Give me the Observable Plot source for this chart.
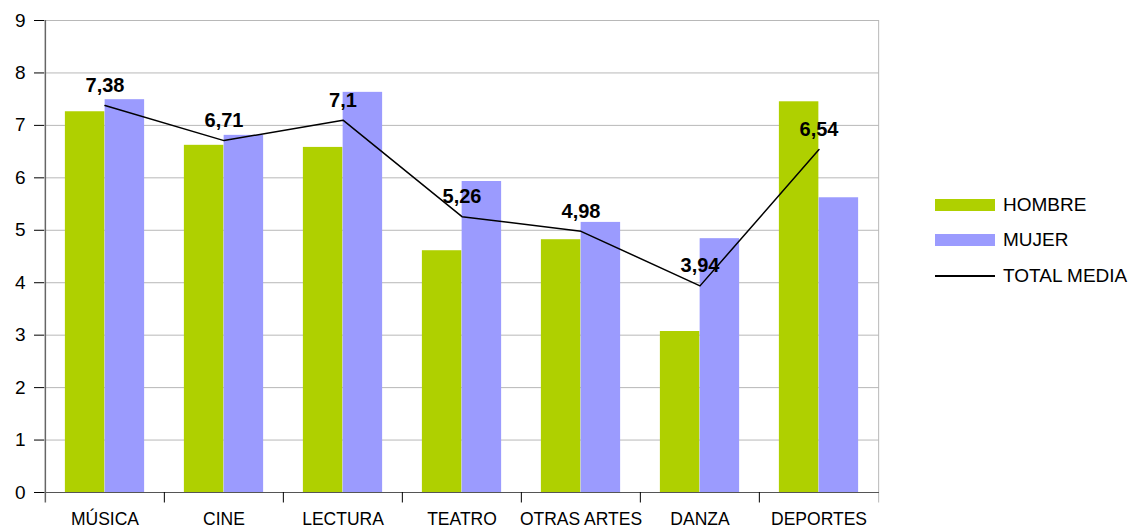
<!DOCTYPE html>
<html>
<head>
<meta charset="utf-8">
<script src="https://cdn.jsdelivr.net/npm/d3@7"></script>
<script src="https://cdn.jsdelivr.net/npm/@observablehq/plot@0.6"></script>
<style>
  html, body { margin: 0; padding: 0; background: #fff; }
  #wrap { position: relative; width: 1138px; height: 530px; font-family: "Liberation Sans", Arial, sans-serif; }
  #wrap svg { overflow: visible; }
  #legend { position: absolute; left: 935px; top: 187px; font-size: 19px; color: #000; }
  .item { display: flex; align-items: center; height: 35.5px; }
  .sw { width: 60px; height: 12px; margin-right: 8px; }
  .ln { width: 60px; height: 0; border-top: 2px solid #000; margin-right: 8px; }
</style>
</head>
<body>
<div id="wrap"><div id="legend"></div></div>
<script>
const categories = ["MÚSICA", "CINE", "LECTURA", "TEATRO", "OTRAS ARTES", "DANZA", "DEPORTES"];
const hombre = [7.26, 6.62, 6.58, 4.61, 4.82, 3.07, 7.45];
const mujer = [7.49, 6.81, 7.63, 5.93, 5.15, 4.84, 5.62];
const totalMedia = [7.38, 6.71, 7.1, 5.26, 4.98, 3.94, 6.54];
const yTicks = [0, 1, 2, 3, 4, 5, 6, 7, 8, 9];
const seriesNames = ["HOMBRE", "MUJER", "TOTAL MEDIA"];
const colors = { HOMBRE: "#afd000", MUJER: "#9b9bfe", "TOTAL MEDIA": "#000" };

const W = 1138, H = 530, mL = 44, mR = 259, mT = 20, mB = 38;
const bw = (W - mL - mR) / categories.length;
const outer = bw / 6, half = bw / 2;

const rows = categories.map((c, i) => ({ cat: c, hombre: hombre[i], mujer: mujer[i], total: totalMedia[i] }));
const fmt = v => String(v).replace(".", ",");

const chart = Plot.plot({
  width: W, height: H,
  marginLeft: mL, marginRight: mR, marginTop: mT, marginBottom: mB,
  style: { fontFamily: "'Liberation Sans', Arial, sans-serif", background: "#fff", color: "#000", overflow: "visible" },
  x: { type: "band", domain: categories, padding: 0 },
  y: { domain: [0, 9] },
  marks: [
    Plot.gridY(yTicks, { stroke: "#b8b8b8", strokeOpacity: 1 }),
    Plot.barY(rows, { x: "cat", y: "hombre", fill: colors.HOMBRE, insetLeft: outer, insetRight: half }),
    Plot.barY(rows, { x: "cat", y: "mujer", fill: colors.MUJER, insetLeft: half, insetRight: outer }),
    Plot.ruleX([categories[categories.length - 1]], { dx: half, y1: -0.2, y2: 9, stroke: "#b8b8b8" }),
    Plot.ruleY([0], { stroke: "#555" }),
    Plot.ruleX(categories.slice(1), { dx: -half, y1: 0, y2: -0.2, stroke: "#000" }),
    Plot.ruleX([categories[0]], { dx: -half, y1: -0.2, y2: 9, stroke: "#666", strokeWidth: 1.5 }),
    Plot.axisY(yTicks, { tickSize: 10, tickPadding: 9, fontSize: 19, stroke: "#000", label: null, tickFormat: d => String(d) }),
    Plot.axisX({ tickSize: 0, tickPadding: 20, fontSize: 17.5, label: null }),
    Plot.lineY(rows, { x: "cat", y: "total", stroke: colors["TOTAL MEDIA"], strokeWidth: 1.5 }),
    Plot.text(rows, { x: "cat", y: "total", text: d => fmt(d.total), dy: -20, fontSize: 20, fontWeight: "bold", fill: "#000" })
  ]
});

const wrap = document.getElementById("wrap");
wrap.insertBefore(chart, wrap.firstChild);

const legend = document.getElementById("legend");
seriesNames.forEach(name => {
  const item = document.createElement("div");
  item.className = "item";
  const mark = document.createElement("div");
  if (name === "TOTAL MEDIA") { mark.className = "ln"; }
  else { mark.className = "sw"; mark.style.background = colors[name]; }
  const label = document.createElement("span");
  label.textContent = name;
  item.appendChild(mark); item.appendChild(label);
  legend.appendChild(item);
});
</script>
</body>
</html>
